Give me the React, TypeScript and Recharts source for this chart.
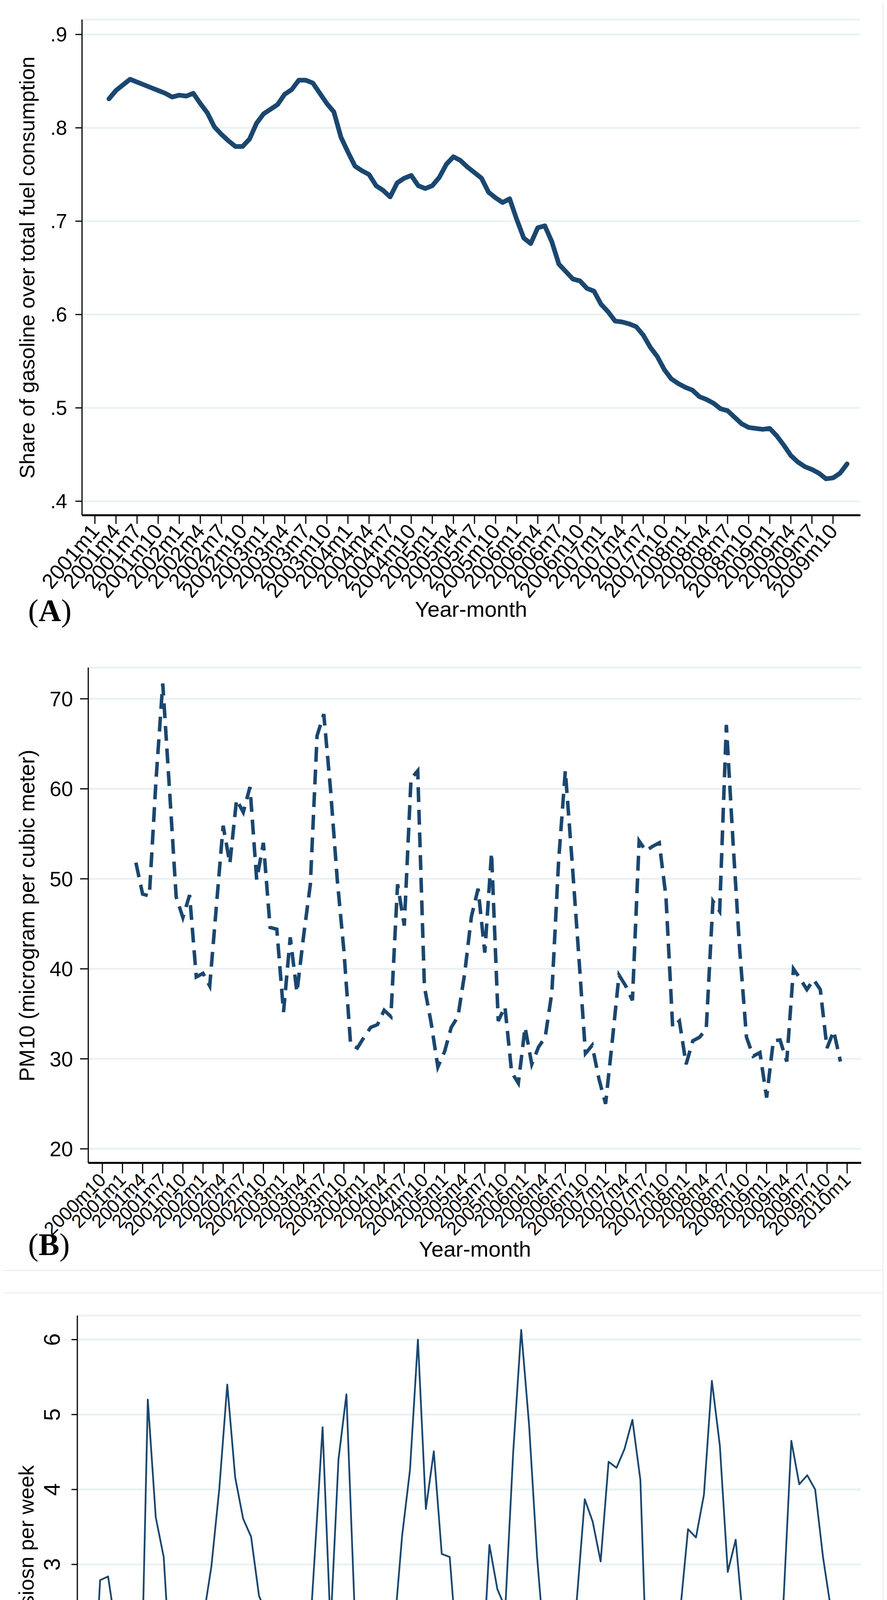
import React from "react";
import { LineChart, Line, XAxis, YAxis, CartesianGrid } from "recharts";

const NAVY = "#1a476f";
const GRID = "#eaf2f3";
const FRAME = "#eef1f2";
const SANS = "'Liberation Sans', Arial, Helvetica, sans-serif";
const SERIF = "'Liberation Serif', 'Times New Roman', serif";

// ---------- Panel A: share of gasoline (monthly, starts 2001m3 = month 2 after 2001m1)
const shareStartMonth = 2;
const shareValues = [
  0.831, 0.84, 0.846, 0.852, 0.849, 0.846, 0.843, 0.84, 0.837, 0.833,
  0.835, 0.834, 0.837, 0.826, 0.816, 0.801, 0.793, 0.786, 0.78, 0.78,
  0.788, 0.805, 0.815, 0.82, 0.825, 0.836, 0.841, 0.851, 0.851, 0.848,
  0.837, 0.826, 0.817, 0.79, 0.774, 0.759, 0.754, 0.75, 0.738, 0.733,
  0.726, 0.741, 0.746, 0.749, 0.738, 0.735, 0.738, 0.747, 0.761, 0.769,
  0.765, 0.758, 0.752, 0.746, 0.731, 0.725, 0.72, 0.724, 0.702, 0.682,
  0.676, 0.693, 0.695, 0.678, 0.654, 0.646, 0.638, 0.636, 0.628, 0.625,
  0.611, 0.603, 0.593, 0.592, 0.59, 0.587, 0.578, 0.565, 0.555, 0.541,
  0.531, 0.526, 0.522, 0.519, 0.512, 0.509, 0.505, 0.499, 0.497, 0.49,
  0.483, 0.479, 0.478, 0.477, 0.478, 0.47, 0.46, 0.449, 0.442, 0.437,
  0.434, 0.43, 0.424, 0.425, 0.43, 0.44,
];
const shareXTicks = [
  0, 3, 6, 9, 12, 15, 18, 21, 24, 27, 30, 33, 36, 39, 42, 45, 48, 51,
  54, 57, 60, 63, 66, 69, 72, 75, 78, 81, 84, 87, 90, 93, 96, 99, 102, 105,
];
const shareXLabels = [
  "2001m1", "2001m4", "2001m7", "2001m10", "2002m1", "2002m4", "2002m7", "2002m10",
  "2003m1", "2003m4", "2003m7", "2003m10", "2004m1", "2004m4", "2004m7", "2004m10",
  "2005m1", "2005m4", "2005m7", "2005m10", "2006m1", "2006m4", "2006m7", "2006m10",
  "2007m1", "2007m4", "2007m7", "2007m10", "2008m1", "2008m4", "2008m7", "2008m10",
  "2009m1", "2009m4", "2009m7", "2009m10",
];
const shareYTicks = [0.4, 0.5, 0.6, 0.7, 0.8, 0.9];
const shareYLabels = [".4", ".5", ".6", ".7", ".8", ".9"];

// ---------- Panel B: PM10 (starts 2001m3 = month 5 after 2000m10)
const pmStartMonth = 5;
const pmValues = [
  51.8, 48.3, 48.1, 61, 71.7, 60, 48.0, 45.7, 48.2, 39.1,
  39.5, 38.1, 47, 55.9, 51.7, 58.8, 57.4, 60.2, 49.9, 54.0,
  44.6, 44.4, 35.2, 43.5, 37.4, 43.7, 49.4, 65.9, 68.3, 60,
  50, 42, 31.6, 31.2, 32.4, 33.5, 33.8, 35.4, 34.7, 49.4,
  44.8, 61.1, 62.0, 38, 34, 29.1, 30.8, 33.5, 34.7, 39.5,
  45.8, 48.9, 41.8, 52.9, 34.2, 35.8, 28.5, 27.3, 33.5, 29.4,
  31.3, 32.4, 37.4, 52, 62.0, 52, 41.5, 30.6, 31.5, 27.8,
  25.0, 32, 39.3, 38.1, 36.5, 54.2, 53.1, 53.6, 54.0, 48,
  33.5, 34.2, 29.4, 32.0, 32.4, 33.3, 47.5, 46.4, 67.1, 54,
  42, 32.4, 30.3, 30.7, 25.7, 32.0, 32.1, 29.7, 40.0, 38.9,
  37.7, 38.8, 37.7, 31.2, 33.1, 29.7,
];
const pmXTicks = [
  0, 3, 6, 9, 12, 15, 18, 21, 24, 27, 30, 33, 36, 39, 42, 45, 48, 51, 54,
  57, 60, 63, 66, 69, 72, 75, 78, 81, 84, 87, 90, 93, 96, 99, 102, 105, 108, 111,
];
const pmXLabels = [
  "2000m10", "2001m1", "2001m4", "2001m7", "2001m10", "2002m1", "2002m4", "2002m7",
  "2002m10", "2003m1", "2003m4", "2003m7", "2003m10", "2004m1", "2004m4", "2004m7",
  "2004m10", "2005m1", "2005m4", "2005m7", "2005m10", "2006m1", "2006m4", "2006m7",
  "2006m10", "2007m1", "2007m4", "2007m7", "2007m10", "2008m1", "2008m4", "2008m7",
  "2008m10", "2009m1", "2009m4", "2009m7", "2009m10", "2010m1",
];
const pmYTicks = [20, 30, 40, 50, 60, 70];
const pmYLabels = ["20", "30", "40", "50", "60", "70"];

// ---------- Panel C: inversions per week (starts 2002m1)
const invStartMonth = 0;
const invValues = [
  0.94, 2.79, 2.84, 2.13, 1.55, 0.0, 0.45, 5.2, 3.63, 3.1,
  1.37, 1.35, 2.2, 1.93, 2.29, 2.97, 4.01, 5.4, 4.16, 3.61,
  3.37, 2.58, 2.33, 0.64, 1.36, 1.24, 2.04, 1.4, 3.1, 4.83,
  2.16, 4.4, 5.27, 2.48, 1.66, 0.41, 0.51, 2.15, 2.1, 3.37,
  4.26, 6.0, 3.74, 4.51, 3.14, 3.1, 1.74, 1.52, 1.81, 1.36,
  3.26, 2.67, 2.42, 4.51, 6.13, 4.85, 3.1, 1.81, 1.7, 1.16,
  0.66, 2.53, 3.87, 3.57, 3.04, 4.37, 4.29, 4.54, 4.93, 4.13,
  0.94, 1.64, 0.38, 1.73, 2.36, 3.47, 3.36, 3.93, 5.45, 4.59,
  2.9, 3.33, 2.16, 1.61, 1.33, 2.47, 1.52, 2.47, 4.65, 4.07,
  4.19, 4.0, 3.09, 2.39, 1.4, 1.84,
];
const invXTicks = [0, 6, 12, 18, 24, 30, 36, 42, 48, 54, 60, 66, 72, 78, 84, 90];
const invXLabels = [
  "2002m1", "2002m7", "2003m1", "2003m7", "2004m1", "2004m7", "2005m1", "2005m7",
  "2006m1", "2006m7", "2007m1", "2007m7", "2008m1", "2008m7", "2009m1", "2009m7",
];
const invYTicks = [0, 1, 2, 3, 4, 5, 6];
const invYLabels = ["0", "1", "2", "3", "4", "5", "6"];

const toRows = (start: number, vals: number[]) => vals.map((v, k) => ({ t: start + k, v }));

function makeXTick(ticks: number[], labels: string[], fontSize: number, angle: number) {
  return (props: any) => {
    const { x, y, payload } = props;
    const i = ticks.indexOf(payload.value);
    return (
      <text
        x={x}
        y={y}
        dy="0.35em"
        textAnchor="end"
        transform={`rotate(${-angle}, ${x}, ${y})`}
        fontFamily={SANS}
        fontSize={fontSize}
        fill="#000"
      >
        {labels[i]}
      </text>
    );
  };
}

function makeYTick(ticks: number[], labels: string[], fontSize: number, rotated: boolean) {
  return (props: any) => {
    const { x, y, payload } = props;
    const i = ticks.findIndex((t) => Math.abs(t - payload.value) < 1e-9);
    if (rotated) {
      return (
        <text
          x={x}
          y={y}
          textAnchor="middle"
          transform={`rotate(-90, ${x}, ${y})`}
          fontFamily={SANS}
          fontSize={fontSize}
          fill="#000"
        >
          {labels[i]}
        </text>
      );
    }
    return (
      <text x={x} y={y} dy="0.35em" textAnchor="end" fontFamily={SANS} fontSize={fontSize} fill="#000">
        {labels[i]}
      </text>
    );
  };
}

type PanelProps = {
  top: number;
  height: number;
  margin: { top: number; right: number; left: number; bottom: number };
  yWidth: number;
  xHeight: number;
  rows: { t: number; v: number }[];
  xDomain: [number, number];
  yDomain: [number, number];
  xTicks: number[];
  xLabels: string[];
  yTicks: number[];
  yLabels: string[];
  xFont: number;
  xAngle: number;
  xTickSize: number;
  xTickMargin: number;
  yFont: number;
  yTickSize: number;
  yTickMargin: number;
  yRotated: boolean;
  lineWidth: number;
  dash?: string;
  yTitle: string;
  yTitleX: number;
  yTitleY: number;
  yTitleFont: number;
  xTitleX: number;
  xTitleY: number;
  letter: string;
  letterX: number;
  letterY: number;
};

function Panel(p: PanelProps) {
  return (
    <div style={{ position: "absolute", left: 0, top: p.top, width: 2271, height: p.height }}>
      <LineChart width={2271} height={p.height} data={p.rows} margin={p.margin}>
        <CartesianGrid horizontal vertical={false} stroke={GRID} strokeWidth={5} />
        <XAxis
          dataKey="t"
          type="number"
          domain={p.xDomain}
          ticks={p.xTicks}
          interval={0}
          height={p.xHeight}
          allowDataOverflow
          axisLine={{ stroke: "#000", strokeWidth: 5 }}
          tickLine={{ stroke: "#000", strokeWidth: 3 }}
          tickSize={p.xTickSize}
          tickMargin={p.xTickMargin}
          tick={makeXTick(p.xTicks, p.xLabels, p.xFont, p.xAngle)}
        />
        <YAxis
          type="number"
          domain={p.yDomain}
          ticks={p.yTicks}
          interval={0}
          width={p.yWidth}
          allowDataOverflow
          axisLine={{ stroke: "#000", strokeWidth: 3 }}
          tickLine={{ stroke: "#000", strokeWidth: 3 }}
          tickSize={p.yTickSize}
          tickMargin={p.yTickMargin}
          tick={makeYTick(p.yTicks, p.yLabels, p.yFont, p.yRotated)}
        />
        <Line
          type="linear"
          dataKey="v"
          stroke={NAVY}
          strokeWidth={p.lineWidth}
          strokeDasharray={p.dash}
          strokeLinejoin={p.dash ? "miter" : "round"}
          strokeLinecap={p.dash ? "butt" : "round"}
          dot={false}
          activeDot={false}
          isAnimationActive={false}
        />
        <text
          x={p.yTitleX}
          y={p.yTitleY}
          textAnchor="middle"
          transform={`rotate(-90, ${p.yTitleX}, ${p.yTitleY})`}
          fontFamily={SANS}
          fontSize={p.yTitleFont}
          fill="#000"
        >
          {p.yTitle}
        </text>
        <text x={p.xTitleX} y={p.xTitleY} textAnchor="middle" fontFamily={SANS} fontSize={56} fill="#000">
          Year-month
        </text>
        <text x={p.letterX} y={p.letterY} fontFamily={SERIF} fontSize={80} fill="#000">
          (<tspan fontWeight="bold">{p.letter}</tspan>)
        </text>
      </LineChart>
    </div>
  );
}

export default function App() {
  return (
    <div
      style={{
        position: "relative",
        width: 2271,
        height: 4961,
        margin: "-8px 0 0 -8px",
        background: "#fff",
        overflow: "hidden",
      }}
    >
      <div style={{ position: "absolute", left: 2259, top: 0, width: 3, height: 4961, background: FRAME }} />
      <div style={{ position: "absolute", left: 0, top: 3251, width: 2262, height: 3, background: FRAME }} />
      <div style={{ position: "absolute", left: 0, top: 3308, width: 2262, height: 3, background: FRAME }} />
      <Panel
        top={0}
        height={1650}
        margin={{ top: 50, right: 68, left: 0, bottom: 0 }}
        yWidth={210}
        xHeight={331}
        rows={toRows(shareStartMonth, shareValues)}
        xDomain={[-1.83, 108.9]}
        yDomain={[0.385, 0.916]}
        xTicks={shareXTicks}
        xLabels={shareXLabels}
        yTicks={shareYTicks}
        yLabels={shareYLabels}
        xFont={54}
        xAngle={50}
        xTickSize={22}
        xTickMargin={8}
        yFont={52}
        yTickSize={17}
        yTickMargin={21}
        yRotated={false}
        lineWidth={12}
        yTitle="Share of gasoline over total fuel consumption"
        yTitleX={88}
        yTitleY={685}
        yTitleFont={54}
        xTitleX={1206}
        xTitleY={1579}
        letter="A"
        letterX={72}
        letterY={1590}
      />
      <Panel
        top={1650}
        height={1600}
        margin={{ top: 59, right: 66, left: 0, bottom: 0 }}
        yWidth={226}
        xHeight={273}
        rows={toRows(pmStartMonth, pmValues)}
        xDomain={[-2.1, 113.1]}
        yDomain={[18.44, 73.47]}
        xTicks={pmXTicks}
        xLabels={pmXLabels}
        yTicks={pmYTicks}
        yLabels={pmYLabels}
        xFont={48}
        xAngle={45}
        xTickSize={27}
        xTickMargin={8}
        yFont={54}
        yTickSize={21}
        yTickMargin={18}
        yRotated={false}
        lineWidth={9}
        dash="38 20"
        yTitle="PM10 (microgram per cubic meter)"
        yTitleX={88}
        yTitleY={694}
        yTitleFont={55}
        xTitleX={1216}
        xTitleY={1567}
        letter="B"
        letterX={72}
        letterY={1563}
      />
      <Panel
        top={3300}
        height={1661}
        margin={{ top: 68, right: 67, left: 0, bottom: 0 }}
        yWidth={198}
        xHeight={344}
        rows={toRows(invStartMonth, invValues)}
        xDomain={[-1.87, 96.75]}
        yDomain={[-0.19, 6.32]}
        xTicks={invXTicks}
        xLabels={invXLabels}
        yTicks={invYTicks}
        yLabels={invYLabels}
        xFont={57}
        xAngle={50}
        xTickSize={22}
        xTickMargin={6}
        yFont={58}
        yTickSize={15}
        yTickMargin={30}
        yRotated={true}
        lineWidth={4.5}
        yTitle="Inversiosn per week"
        yTitleX={86}
        yTitleY={691}
        yTitleFont={54}
        xTitleX={1202}
        xTitleY={1595}
        letter="C"
        letterX={72}
        letterY={1606}
      />
    </div>
  );
}
